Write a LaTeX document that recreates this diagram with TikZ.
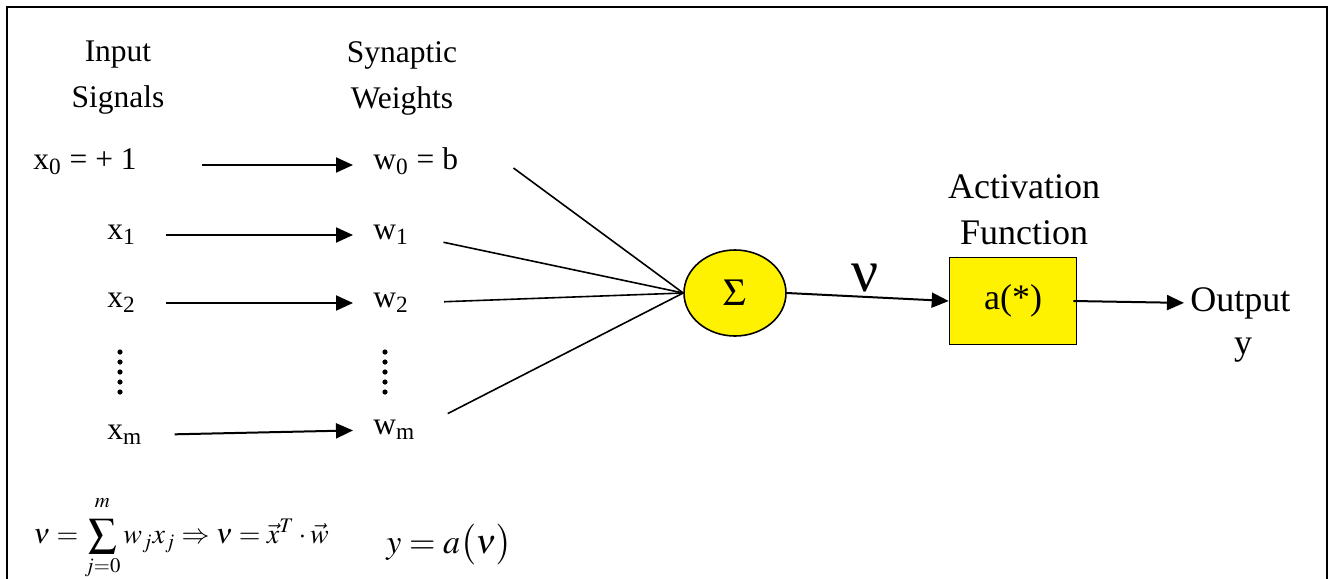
\documentclass[tikz,border=0pt]{standalone}
\usepackage{mathptmx}
\usepackage[no-math]{fontspec}
\setmainfont{Liberation Serif}
\usetikzlibrary{arrows.meta,positioning,shapes.geometric}

\tikzset{
  lbl/.style={font=\fontsize{15.75}{19}\selectfont, inner sep=0pt, text height=1.5ex, text depth=0.5ex},
  big/.style={font=\fontsize{18}{23}\selectfont, inner sep=0pt},
  sig/.style={-{Triangle[length=8.5pt,width=7.5pt]}, line width=1pt},
  wire/.style={line width=0.8pt},
}

\begin{document}
\begin{tikzpicture}[x=0.5pt,y=-0.5pt]
    \useasboundingbox (0,0) rectangle (1335,579);
    \draw[line width=1pt] (7,579) -- (7,7) -- (1327,7) -- (1327,579);

    % column headers
    \node[big, font=\fontsize{15.75}{23}\selectfont, align=center] (inhead) at (118,78) {Input\\Signals};
    \node[big, font=\fontsize{15.75}{23}\selectfont, align=center] (wthead) at (402,78) {Synaptic\\Weights};

    % inputs and weights
    \node[lbl, anchor=west] (x0) at (33,165) {x\textsubscript{0} = + 1};
    \node[lbl, anchor=west] (w0) at (373,165) {w\textsubscript{0} = b};
    \node[lbl, anchor=west] (x1) at (107,235) {x\textsubscript{1}};
    \node[lbl, anchor=west] (w1) at (373,235) {w\textsubscript{1}};
    \node[lbl, anchor=west] (x2) at (107,303) {x\textsubscript{2}};
    \node[lbl, anchor=west] (w2) at (373,303) {w\textsubscript{2}};
    \node[lbl, anchor=west] (xm) at (107,435) {x\textsubscript{m}};
    \node[lbl, anchor=west] (wm) at (373,430) {w\textsubscript{m}};

    \foreach \k in {0,...,4} {
      \fill (120,352+10*\k) circle (1.3pt);
      \fill (385,352+10*\k) circle (1.3pt);
    }

    \draw[sig, shorten <=32.5pt, shorten >=10pt] (x0.east) -- (w0.west);
    \draw[sig, shorten <=15pt, shorten >=10pt] (x1.east) -- (w1.west);
    \draw[sig, shorten <=15pt, shorten >=10pt] (x2.east) -- (w2.west);
    \draw[sig, shorten <=16pt, shorten >=10pt] (xm.east) -- (wm.west);

    % summing junction
    \node[ellipse, draw, line width=0.8pt, fill=yellow, minimum width=51pt, minimum height=43pt, inner sep=0pt,
          font=\fontsize{19}{22}\selectfont] (sum) at (735,293) {$\Sigma$};

    \draw[wire] ([shift={(55,3)}]w0.east) -- (sum.west);
    \draw[wire, shorten <=17.5pt] (w1.east) -- (sum.west);
    \draw[wire, shorten <=17.5pt] (w2.east) -- (sum.west);
    \draw[wire, shorten <=18pt] (wm.east) -- (sum.west);

    % activation
    \node[draw, line width=0.8pt, fill=yellow, minimum width=63.5pt, minimum height=43.5pt, inner sep=0pt,
          font=\fontsize{18}{22}\selectfont] (act) at (1013,301) {a(*)};
    \node[big, align=center] (actlbl) at (1024,210) {Activation\\Function};
    \node[inner sep=0pt, font=\fontsize{30}{32}\selectfont] (nu) at (865,278) {ν};
    \draw[sig] (sum.east) -- (act.west);

    \node[big, anchor=west] (out) at (1190,303) {Output};
    \node[big] (y) at (1243,350) {y};
    \draw[sig, shorten >=3pt] ([xshift=-2pt]act.east) -- (out.west);

    % equations
    \node[anchor=west, inner sep=0pt, font=\fontsize{14}{16}\selectfont] (eqsum) at (33,538)
      {$\displaystyle \nu=\sum_{j=0}^{\raisebox{3pt}{$\scriptstyle m$}} w_j x_j \Rightarrow \nu=\vec{x}^{T}\cdot\vec{w}$};
    \node[anchor=west, inner sep=0pt, font=\fontsize{17}{19}\selectfont] (eqy) at (386,545) {$y=a\bigl(\nu\bigr)$};
\end{tikzpicture}
\end{document}
